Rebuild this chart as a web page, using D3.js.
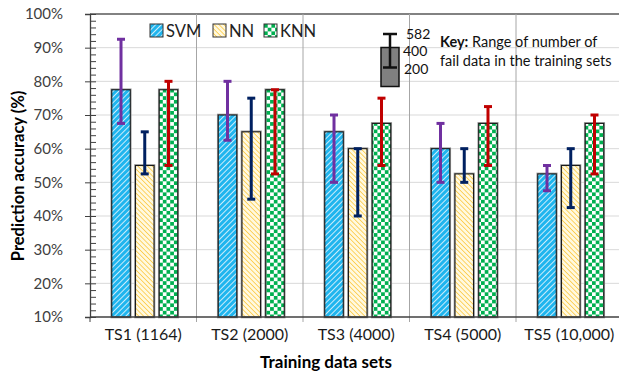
<!DOCTYPE html>
<html>
<head>
	<script src="https://cdn.jsdelivr.net/npm/d3@7"></script>
	<style>
		body { margin: 0; background: #fff; }
		text { font-family: Lato, "Liberation Sans", sans-serif; }
	</style>
</head>
<body>
	<script>
		var categories = ["TS1 (1164)", "TS2 (2000)", "TS3 (4000)", "TS4 (5000)", "TS5 (10,000)"];
		var seriesNames = ["SVM", "NN", "KNN"];

		// bar heights and error ranges, in %
		var svm = [77.5, 70, 65, 60, 52.5];
		var svmLow = [67.5, 62.5, 50, 50, 47.5];
		var svmHigh = [92.5, 80, 70, 67.5, 55];
		var nn = [55, 65, 60, 52.5, 55];
		var nnLow = [52.5, 45, 40, 50, 42.5];
		var nnHigh = [65, 75, 60, 60, 60];
		var knn = [77.5, 77.5, 67.5, 67.5, 67.5];
		var knnLow = [55, 52.5, 55, 55, 52.5];
		var knnHigh = [80, 77.5, 75, 72.5, 70];

		var yTicks = [10, 20, 30, 40, 50, 60, 70, 80, 90, 100];
		var keyLabels = ["582", "400", "200"];

		var width = 619, height = 375;
		var pLeft = 90, pRight = 622.5, pTop = 14, pBottom = 317;

		var svg = d3.select("body").append("svg")
			.attr("width", width)
			.attr("height", height);

		var defs = svg.append("defs");

		// SVM: blue with white "/" hatch
		var p1 = defs.append("pattern").attr("id", "pSVM")
			.attr("patternUnits", "userSpaceOnUse")
			.attr("width", 4).attr("height", 4)
			.attr("patternTransform", "rotate(45)");
		p1.append("rect").attr("width", 4).attr("height", 4).attr("fill", "#1fb5ee");
		p1.append("line").attr("x1", 0).attr("y1", 0).attr("x2", 0).attr("y2", 4)
			.attr("stroke", "#dff3fc").attr("stroke-width", 1.8);

		// NN: pale with yellow "\" hatch
		var p2 = defs.append("pattern").attr("id", "pNN")
			.attr("patternUnits", "userSpaceOnUse")
			.attr("width", 3.4).attr("height", 3.4)
			.attr("patternTransform", "rotate(-45)");
		p2.append("rect").attr("width", 3.4).attr("height", 3.4).attr("fill", "#fff9e0");
		p2.append("line").attr("x1", 0).attr("y1", 0).attr("x2", 0).attr("y2", 3.4)
			.attr("stroke", "#fcc22e").attr("stroke-width", 1.4);

		// KNN: green checker
		var c = 3.7;
		var p3 = defs.append("pattern").attr("id", "pKNN")
			.attr("patternUnits", "userSpaceOnUse")
			.attr("width", c * 2).attr("height", c * 2);
		p3.append("rect").attr("width", c * 2).attr("height", c * 2).attr("fill", "#ffffff");
		p3.append("rect").attr("width", c).attr("height", c).attr("fill", "#00b050");
		p3.append("rect").attr("x", c).attr("y", c).attr("width", c).attr("height", c).attr("fill", "#00b050");

		var fills = { SVM: "url(#pSVM)", NN: "url(#pNN)", KNN: "url(#pKNN)" };
		var errColors = { SVM: "#7030a0", NN: "#002060", KNN: "#c00000" };

		var x0 = d3.scaleBand().domain(categories).range([pLeft, pRight]).padding(0);
		var x1 = d3.scaleBand().domain(seriesNames).range([-31.5, 34.5]).paddingInner(0.22);
		var y = d3.scaleLinear().domain([10, 100]).range([pBottom, pTop]);

		// gridlines
		svg.append("g").selectAll("line").data(yTicks.slice(1, -1)).join("line")
			.attr("x1", pLeft).attr("x2", width)
			.attr("y1", d => y(d)).attr("y2", d => y(d))
			.attr("stroke", "#d9d9d9").attr("stroke-width", 1);
		svg.append("line")
			.attr("x1", pLeft).attr("x2", width)
			.attr("y1", y(100)).attr("y2", y(100))
			.attr("stroke", "#595959").attr("stroke-width", 1.3);

		// category separators
		svg.append("g").selectAll("line").data(categories.slice(1)).join("line")
			.attr("x1", d => x0(d)).attr("x2", d => x0(d))
			.attr("y1", pTop).attr("y2", pBottom + 5)
			.attr("stroke", "#a6a6a6").attr("stroke-width", 1);

		// rows of data
		var rows = categories.map(function(cat, i) {
			return [
				{ cat: cat, s: "SVM", v: svm[i], lo: svmLow[i], hi: svmHigh[i] },
				{ cat: cat, s: "NN", v: nn[i], lo: nnLow[i], hi: nnHigh[i] },
				{ cat: cat, s: "KNN", v: knn[i], lo: knnLow[i], hi: knnHigh[i] }
			];
		}).flat();

		var cx = d => x0(d.cat) + x0.bandwidth() / 2 + x1(d.s);
		var mid = d => cx(d) + x1.bandwidth() / 2;

		// grey halo then black outline, like the original bars
		svg.append("g").selectAll("rect").data(rows).join("rect")
			.attr("x", d => cx(d))
			.attr("y", d => y(d.v))
			.attr("width", x1.bandwidth())
			.attr("height", d => y(10) - y(d.v))
			.attr("fill", "none")
			.attr("stroke", "#9a9a9a").attr("stroke-width", 2.6);
		svg.append("g").selectAll("rect").data(rows).join("rect")
			.attr("x", d => cx(d))
			.attr("y", d => y(d.v))
			.attr("width", x1.bandwidth())
			.attr("height", d => y(10) - y(d.v))
			.attr("fill", d => fills[d.s])
			.attr("stroke", "#1a1a1a").attr("stroke-width", 1.1);

		// error bars
		var eb = svg.append("g").selectAll("g").data(rows).join("g")
			.attr("stroke", d => errColors[d.s])
			.attr("stroke-width", 3);
		eb.append("line")
			.attr("x1", mid).attr("x2", mid)
			.attr("y1", d => y(d.lo)).attr("y2", d => y(d.hi));
		eb.append("line")
			.attr("x1", d => mid(d) - 4).attr("x2", d => mid(d) + 4)
			.attr("y1", d => y(d.lo)).attr("y2", d => y(d.lo));
		eb.append("line")
			.attr("x1", d => mid(d) - 4).attr("x2", d => mid(d) + 4)
			.attr("y1", d => y(d.hi)).attr("y2", d => y(d.hi));

		// y axis
		var yAxis = svg.append("g").attr("transform", "translate(" + pLeft + ",0)")
			.call(d3.axisLeft(y).tickValues(yTicks).tickSize(5).tickPadding(22).tickFormat(d => d + "%"));
		yAxis.select(".domain").attr("stroke", "#404040").attr("stroke-width", 1.3);
		yAxis.selectAll(".tick line").attr("stroke", "#404040").attr("x2", -5).attr("x1", 6);
		yAxis.selectAll("text").attr("font-size", 15).attr("fill", "#404040");

		var minor = svg.append("g").attr("transform", "translate(" + pLeft + ",0)")
			.call(d3.axisRight(y).tickValues(d3.range(12, 100, 2).filter(v => v % 10 != 0)).tickSize(6).tickFormat(""));
		minor.select(".domain").remove();
		minor.selectAll("line").attr("stroke", "#404040");

		// x axis
		svg.append("line").attr("x1", pLeft).attr("x2", width).attr("y1", pBottom).attr("y2", pBottom)
			.attr("stroke", "#404040").attr("stroke-width", 1.3);
		svg.append("line").attr("x1", pLeft).attr("x2", pLeft).attr("y1", pBottom).attr("y2", pBottom + 5)
			.attr("stroke", "#404040");
		var xAxis = svg.append("g").attr("transform", "translate(0," + pBottom + ")")
			.call(d3.axisBottom(x0).tickSize(0).tickPadding(12));
		xAxis.select(".domain").remove();
		xAxis.selectAll("text").attr("font-size", 16).attr("fill", "#1a1a1a");

		// axis titles
		svg.append("text")
			.attr("x", 326).attr("y", 368)
			.attr("text-anchor", "middle")
			.attr("font-size", 17).attr("font-weight", "bold")
			.text("Training data sets");
		svg.append("text")
			.attr("transform", "translate(24," + 176 + ") rotate(-90)")
			.attr("text-anchor", "middle")
			.attr("font-size", 16.5).attr("font-weight", "bold")
			.text("Prediction accuracy (%)");

		// legend
		var legX = [150, 213, 264];
		var leg = svg.append("g").selectAll("g").data(seriesNames).join("g")
			.attr("transform", (d, i) => "translate(" + legX[i] + ",24)");
		leg.append("rect").attr("width", 13).attr("height", 13)
			.attr("fill", d => fills[d]).attr("stroke", "#333").attr("stroke-width", 1);
		leg.append("text").attr("x", 16).attr("y", 12.5)
			.attr("font-size", 16.5).attr("fill", "#222").text(d => d);

		// key glyph
		var key = svg.append("g");
		key.append("rect").attr("x", 381).attr("y", 47.5).attr("width", 18).attr("height", 39)
			.attr("fill", "#808080").attr("stroke", "#111").attr("stroke-width", 1.5);
		key.append("line").attr("x1", 390).attr("x2", 390).attr("y1", 34).attr("y2", 67.5)
			.attr("stroke", "#111").attr("stroke-width", 2.5);
		key.append("line").attr("x1", 383).attr("x2", 397).attr("y1", 34).attr("y2", 34)
			.attr("stroke", "#111").attr("stroke-width", 2.5);
		key.append("line").attr("x1", 383).attr("x2", 397).attr("y1", 67.5).attr("y2", 67.5)
			.attr("stroke", "#111").attr("stroke-width", 2.5);
		var keyLx = [406, 403, 404], keyLy = [39, 56, 74];
		key.selectAll("text.kl").data(keyLabels).join("text")
			.attr("x", (d, i) => keyLx[i]).attr("y", (d, i) => keyLy[i])
			.attr("font-size", 14).attr("fill", "#111").text(d => d);

		var kt = svg.append("text").attr("x", 440).attr("y", 47).attr("font-size", 14.5).attr("fill", "#111");
		kt.append("tspan").attr("font-weight", "bold").text("Key:");
		kt.append("tspan").text(" Range of number of");
		svg.append("text").attr("x", 440).attr("y", 66).attr("font-size", 14.5).attr("fill", "#111")
			.text("fail data in the training sets");
	</script>
</body>
</html>
